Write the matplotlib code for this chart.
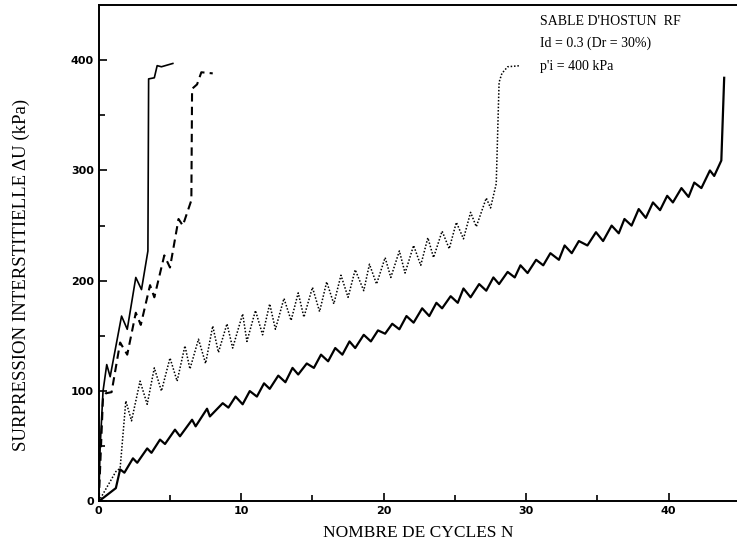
import numpy as np
import matplotlib
matplotlib.use('Agg')
import matplotlib.pyplot as plt

# courbe A (trait plein, rupture rapide)
nA = [0, 0.1, 0.3, 0.56, 0.8, 1.6, 2.0, 2.6, 3.0, 3.45, 3.5, 3.9, 4.1, 4.4, 5.2]
uA = [0, 50, 100, 124, 113, 168, 156, 203, 192, 227, 383, 384, 395, 394, 397]

# courbe B (tirets)
nB = [0, 0.3, 0.5, 0.9, 1.5, 2.0, 2.6, 2.95, 3.6, 3.9, 4.6, 5.0, 5.6, 5.9,
      6.5, 6.55, 6.9, 7.2, 8.0]
uB = [0, 95, 98, 99, 144, 133, 171, 160, 196, 185, 223, 212, 256, 250,
      273, 374, 378, 389, 388]

# courbe C (pointilles)
nC = [0, 1.2, 1.5, 1.9, 2.3, 2.9, 3.4, 3.9, 4.4, 5.0, 5.5, 6.05, 6.4, 7.0, 7.5,
      8.0, 8.4, 9.0, 9.4, 10.1, 10.4, 11.0, 11.5, 12.0, 12.4, 13.0, 13.5, 14.0,
      14.4, 15.0, 15.5, 16.0, 16.5, 17.0, 17.5, 18.0, 18.6, 19.0, 19.5, 20.1,
      20.5, 21.1, 21.5, 22.1, 22.6, 23.1, 23.5, 24.1, 24.6, 25.1, 25.6, 26.1,
      26.5, 27.2, 27.5, 27.9, 28.1, 28.3, 28.7, 29.6]
uC = [0, 27, 30, 91, 73, 109, 88, 121, 100, 130, 109, 141, 120, 147, 125,
      159, 135, 161, 139, 170, 145, 173, 151, 179, 156, 184, 164, 189,
      167, 194, 172, 199, 179, 205, 185, 210, 191, 215, 197, 221,
      203, 227, 207, 232, 214, 239, 221, 245, 229, 253, 238, 262,
      249, 275, 266, 288, 380, 388, 394, 395]

# courbe D (trait plein, rupture lente)
nD = [0, 1.2, 1.5, 1.8, 2.4, 2.7, 3.4, 3.7, 4.3, 4.65, 5.35, 5.7, 6.55, 6.8,
      7.6, 7.8, 8.7, 9.1, 9.6, 10.1, 10.6, 11.1, 11.6, 12.0, 12.6, 13.1, 13.6,
      14.0, 14.6, 15.1, 15.6, 16.1, 16.6, 17.1, 17.6, 18.0, 18.6, 19.1, 19.6,
      20.1, 20.6, 21.1, 21.6, 22.1, 22.7, 23.2, 23.7, 24.1, 24.7, 25.2, 25.6,
      26.1, 26.7, 27.2, 27.7, 28.1, 28.7, 29.2, 29.6, 30.1, 30.7, 31.2, 31.7,
      32.3, 32.7, 33.2, 33.7, 34.3, 34.9, 35.4, 36.0, 36.5, 36.9, 37.4, 37.9,
      38.4, 38.9, 39.4, 39.9, 40.3, 40.9, 41.4, 41.8, 42.3, 42.9, 43.2, 43.7, 43.9]
uD = [0, 12, 29, 26, 39, 35, 48, 44, 56, 52, 65, 59, 74, 68, 84, 77, 89, 85, 95, 88,
      100, 95, 107, 102, 114, 108, 121, 115, 125, 121, 133, 127, 139, 133, 145, 139,
      151, 145, 155, 152, 161, 156, 168, 162, 175, 168, 180, 175, 186, 180,
      193, 185, 197, 191, 203, 197, 208, 203, 214, 207, 219, 214, 225, 219,
      232, 225, 236, 232, 244, 236, 250, 243, 256, 250, 265, 257, 271, 264,
      277, 271, 284, 276, 289, 284, 300, 295, 309, 384]

xticks = [0, 10, 20, 30, 40]
yticks = [0, 100, 200, 300, 400]

serif = 'Liberation Serif'

fig = plt.figure(figsize=(7.37, 5.54), dpi=100)
ax = fig.add_axes([0.134, 0.095, 0.866, 0.896])

ax.plot(nA, uA, color='black', lw=1.2, solid_joinstyle='round')
ax.plot(nB, uB, color='black', lw=1.5, linestyle=(0, (4, 2.5)))
ax.plot(nC, uC, color='black', lw=1.1, linestyle=(0, (1, 1.2)))
ax.plot(nD, uD, color='black', lw=1.6, solid_joinstyle='round')

ax.set_xlim(0, 44.8)
ax.set_ylim(0, 450)
ax.set_xticks(xticks)
ax.set_xticks([5, 15, 25, 35], minor=True)
ax.set_yticks(yticks)
ax.set_yticks([50, 150, 250, 350], minor=True)
ax.tick_params(which='both', direction='in', width=1.2, labelsize=8)
ax.tick_params(which='major', length=6)
ax.tick_params(which='minor', length=4)
for lab in ax.get_xticklabels() + ax.get_yticklabels():
    lab.set_fontweight('bold')

for side in ['left', 'bottom', 'top']:
    ax.spines[side].set_linewidth(1.4)
ax.spines['right'].set_visible(False)

ax.set_xlabel('NOMBRE DE CYCLES N', fontfamily=serif, fontsize=12.5, labelpad=6)
ax.set_ylabel('SURPRESSION INTERSTITIELLE \u0394U (kPa)', fontfamily=serif,
              fontsize=13.5)
ax.yaxis.set_label_coords(-0.108, 0.456)

ax.text(0.691, 0.966, "SABLE D'HOSTUN  RF", transform=ax.transAxes,
        fontfamily=serif, fontsize=10, va='center')
ax.text(0.691, 0.923, 'Id = 0.3 (Dr = 30%)', transform=ax.transAxes,
        fontfamily=serif, fontsize=10, va='center')
ax.text(0.691, 0.877, "p'i = 400 kPa", transform=ax.transAxes,
        fontfamily=serif, fontsize=10, va='center')

fig.savefig('out.png', dpi=100)
